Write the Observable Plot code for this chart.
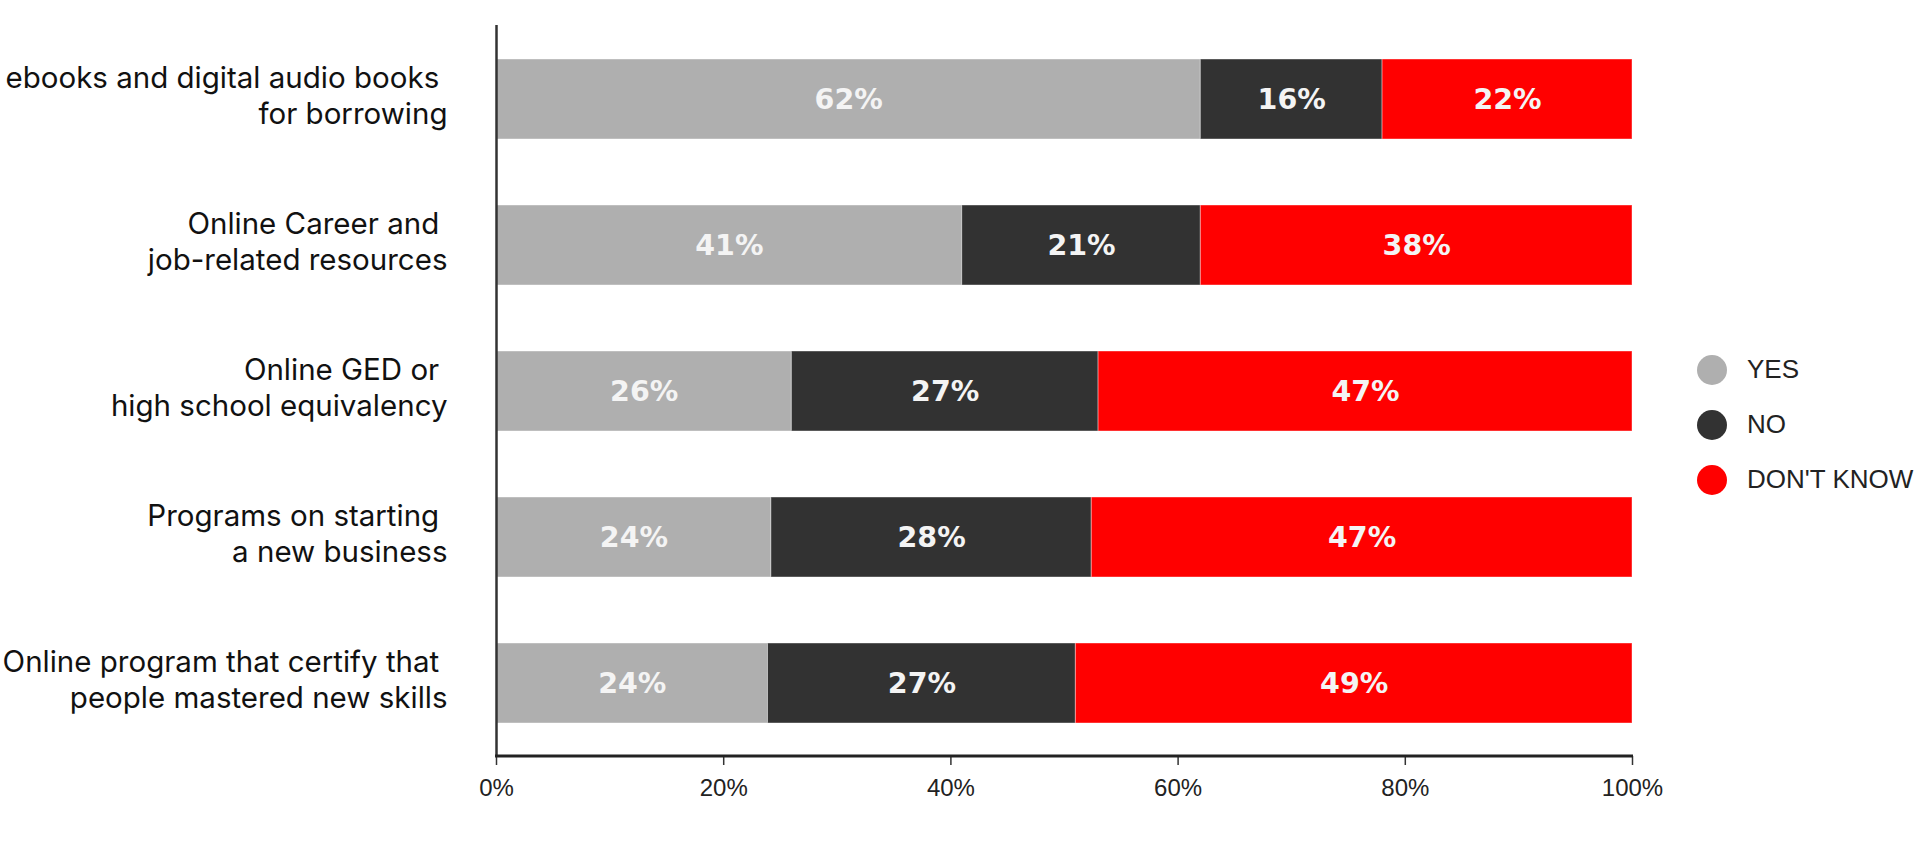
<!DOCTYPE html>
<html>
<head>
<meta charset="utf-8">
<script src="https://cdn.jsdelivr.net/npm/d3@7"></script>
<script src="https://cdn.jsdelivr.net/npm/@observablehq/plot@0.6"></script>
<style>
  html, body { margin: 0; padding: 0; background: #fff; }
  #wrap { position: relative; width: 1930px; height: 866px; }
  #chart svg text { white-space: pre; }
  #legend { position: absolute; left: 1697px; top: 342px; font-family: "Liberation Sans", Arial, sans-serif; font-size: 26px; color: #222; }
  #legend .row { display: flex; align-items: center; height: 55px; }
  #legend .dot { width: 30px; height: 30px; border-radius: 50%; margin-right: 20px; }
</style>
</head>
<body>
<div id="wrap">
  <div id="chart"></div>
  <div id="legend"></div>
</div>
<script>
const categories = [
  "ebooks and digital audio books \nfor borrowing",
  "Online Career and \njob-related resources",
  "Online GED or \nhigh school equivalency",
  "Programs on starting \na new business",
  "Online program that certify that \npeople mastered new skills"
];
const seriesNames = ["YES", "NO", "DON'T KNOW"];
const yesValues = [62, 41, 26, 24.2, 23.9];
const noValues = [16, 21, 27, 28.2, 27.1];
const dontKnowValues = [22, 38, 47, 47.6, 49.0];
const yesLabels = ["62%", "41%", "26%", "24%", "24%"];
const noLabels = ["16%", "21%", "27%", "28%", "27%"];
const dontKnowLabels = ["22%", "38%", "47%", "47%", "49%"];
const xTicks = [0, 20, 40, 60, 80, 100];
const seriesColors = ["#afafaf", "#323232", "#ff0000"];

const valueSets = [yesValues, noValues, dontKnowValues];
const labelSets = [yesLabels, noLabels, dontKnowLabels];
const rows = [];
categories.forEach((c, i) => {
  seriesNames.forEach((s, j) => {
    rows.push({category: c, series: s, value: valueSets[j][i], label: labelSets[j][i]});
  });
});

const W = 1930, H = 866, mL = 496, mR = 298, mT = 25, mB = 110;

const chart = Plot.plot({
  width: W,
  height: H,
  marginLeft: mL,
  marginRight: mR,
  marginTop: mT,
  marginBottom: mB,
  style: {background: "transparent"},
  x: {domain: [0, 100], axis: null},
  y: {domain: categories, padding: 0, axis: null},
  color: {domain: seriesNames, range: seriesColors},
  marks: [
    Plot.barX(rows, Plot.stackX({
      x: "value", y: "category", fill: "series", order: null,
      insetTop: 33, insetBottom: 33,
      stroke: "#ffffff", strokeOpacity: 0.4, strokeWidth: 1
    })),
    Plot.text(rows, Plot.stackX({
      x: "value", y: "category", text: "label", order: null,
      fill: "#f4f4f4", fontSize: 28.5, fontWeight: "bold",
      fontFamily: "DejaVu Sans, Verdana, sans-serif"
    })),
    Plot.ruleX([0], {stroke: "#333", strokeWidth: 2.5}),
    Plot.axisY({
      label: null,
      tickSize: 0, tickPadding: 49, fontSize: 29.5, dy: -5,
      fontFamily: "Inter, sans-serif", fill: "#111", lineHeight: 1.2,
      textAnchor: "end"
    }),
    Plot.axisX({
      label: null,
      ticks: xTicks, tickFormat: d => d + "%", tickSize: 9, tickPadding: 13,
      fontSize: 24, fontFamily: "Liberation Sans, Arial, sans-serif",
      stroke: "#333", strokeWidth: 1.5, fill: "#222"
    })
  ]
});

// bottom axis line using the Plot x scale
const xs = chart.scale("x");
d3.select(chart).append("line")
  .attr("x1", xs.apply(0) - 1).attr("x2", xs.apply(100) + 1)
  .attr("y1", H - mB).attr("y2", H - mB)
  .attr("stroke", "#222").attr("stroke-width", 3);

document.getElementById("chart").appendChild(chart);

const legend = d3.select("#legend");
seriesNames.forEach((s, j) => {
  const r = legend.append("div").attr("class", "row");
  r.append("div").attr("class", "dot").style("background", seriesColors[j]);
  r.append("span").text(s);
});
</script>
</body>
</html>
